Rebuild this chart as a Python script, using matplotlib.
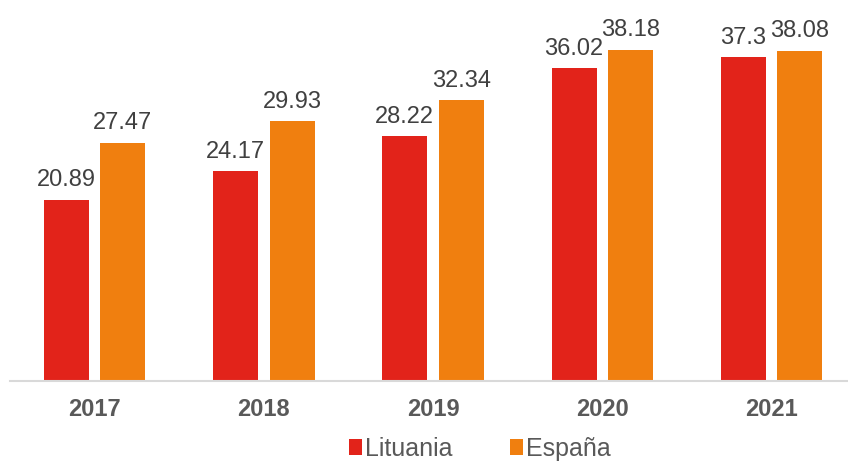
import matplotlib
matplotlib.use("Agg")
import matplotlib.pyplot as plt
import numpy as np

years = ["2017", "2018", "2019", "2020", "2021"]
lituania = [20.89, 24.17, 28.22, 36.02, 37.3]
espana = [27.47, 29.93, 32.34, 38.18, 38.08]
series_names = ["Lituania", "España"]

W, H = 848, 461
fig = plt.figure(figsize=(W / 100, H / 100), dpi=100)
ax = fig.add_axes([10 / W, (H - 381) / H, 846.25 / W, 381 / H])

red = "#E2231A"
orange = "#F07F0F"
x = np.arange(len(years))
bw = 0.266
off = 0.167
b1 = ax.bar(x - off, lituania, bw, color=red, label=series_names[0])
b2 = ax.bar(x + off, espana, bw, color=orange, label=series_names[1])

for bars, vals in ((b1, lituania), (b2, espana)):
    for r, v in zip(bars, vals):
        ax.annotate(f"{v:g}", (r.get_x() + r.get_width() / 2, v),
                    xytext=(0, 6), textcoords="offset points",
                    ha="center", va="bottom", fontsize=17,
                    family="Liberation Sans", color="#404040")

ax.set_xlim(-0.5, 4.5)
ax.set_ylim(0, 43.9)
ax.set_yticks([])
ax.set_xticks(x)
ax.set_xticklabels(years, fontsize=17, fontweight="bold", family="Liberation Sans", color="#595959")
ax.tick_params(axis="x", length=0, pad=12.5)
for s in ("top", "right", "left"):
    ax.spines[s].set_visible(False)
ax.spines["bottom"].set_color("#D9D9D9")
ax.spines["bottom"].set_linewidth(1.5)

leg = fig.legend(handles=[b1, b2], labels=series_names, loc="center",
                 bbox_to_anchor=(480 / W, 1 - 449 / H), ncol=2, frameon=False,
                 prop={"family": "Liberation Sans", "size": 18},
                 handlelength=0.52, handleheight=0.62, handletextpad=0.12,
                 columnspacing=2.3, borderaxespad=0, borderpad=0)
for t in leg.get_texts():
    t.set_color("#595959")

fig.savefig("out.png", dpi=100)
